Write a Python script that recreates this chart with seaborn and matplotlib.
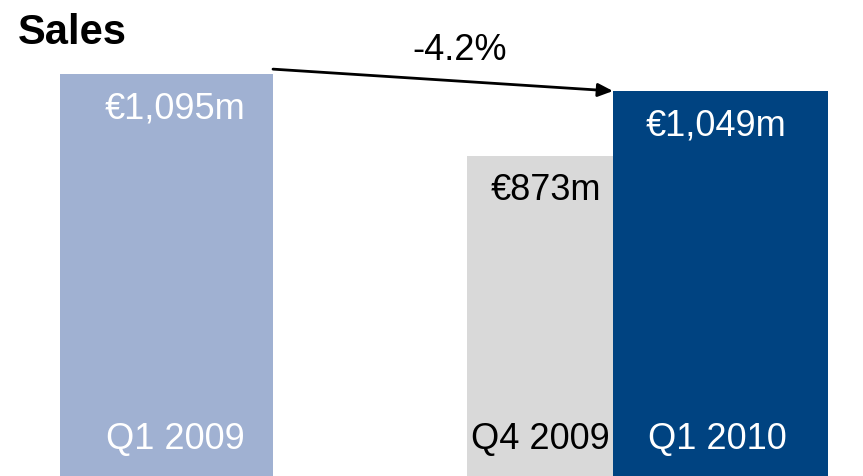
import matplotlib
matplotlib.use('Agg')
import matplotlib.pyplot as plt
import seaborn as sns

# data
quarters = ['Q1 2009', 'Q4 2009', 'Q1 2010']
sales = [1095, 873, 1049]
value_labels = ['€1,095m', '€873m', '€1,049m']
change_label = '-4.2%'

bar_colors = ['#A0B1D2', '#D9D9D9', '#004381']
text_colors = ['white', 'black', 'white']

# layout (x in figure pixels, bars have unequal widths in the original)
bar_left = [60, 467, 613]
bar_width = [213, 146, 215]
label_x = [175, 546, 716]
cat_x = [175, 540, 717]

sns.set_style('white')
plt.rcParams['font.family'] = ['Liberation Sans', 'DejaVu Sans']

fig, ax = plt.subplots(figsize=(8.63, 4.76), dpi=100)
ax.set_position([0, 0, 1, 1])

sns.barplot(x=quarters, y=sales, hue=quarters, palette=bar_colors,
            legend=False, saturation=1, ax=ax)

# move bars to the original positions / widths
for patch, left, width in zip(ax.patches, bar_left, bar_width):
    patch.set_x(left)
    patch.set_width(width)
    patch.set_edgecolor('none')

ax.set_xlim(0, 863)
ymax = 1297  # figure height of 476 px in data units
ax.set_ylim(0, ymax)
ax.axis('off')
px = ymax / 476.0

for x, v, lab, c in zip(label_x, sales, value_labels, text_colors):
    ax.text(x, v - 35 * px, lab, ha='center', va='center', fontsize=26, color=c)

for x, q, c in zip(cat_x, quarters, text_colors):
    ax.text(x, 37 * px, q, ha='center', va='center', fontsize=26, color=c)

# change arrow from Q1 2009 to Q1 2010
ax.annotate('', xy=(bar_left[2], sales[2]), xytext=(bar_left[0] + bar_width[0], sales[0] + 5 * px),
            arrowprops=dict(arrowstyle='-|>,head_length=0.9,head_width=0.4', color='black', lw=2,
                            shrinkA=0, shrinkB=0))
ax.text(460, (476 - 50) * px, change_label, ha='center', va='center', fontsize=26, color='black')

fig.text(18 / 863, 1 - 33 / 476, 'Sales', ha='left', va='center', fontsize=30,
         fontweight='bold', color='black')

fig.savefig('out.png', dpi=100)
